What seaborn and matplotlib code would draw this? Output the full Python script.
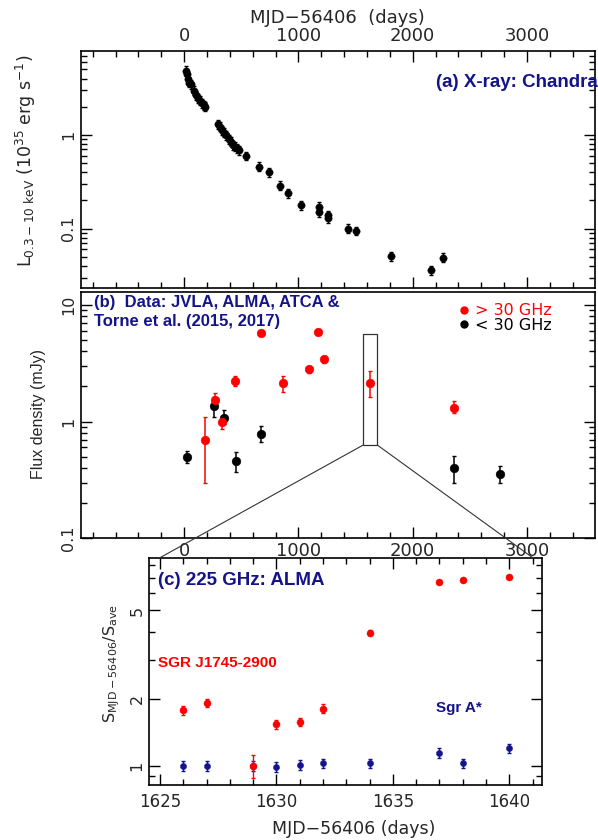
import numpy as np
import pandas as pd
import matplotlib
matplotlib.use("Agg")
import matplotlib.pyplot as plt
import seaborn as sns
from matplotlib.patches import Rectangle, ConnectionPatch
from matplotlib.lines import Line2D
from matplotlib.ticker import FixedLocator, NullFormatter, MultipleLocator

sns.set_theme(style="ticks")
plt.rcParams["font.family"] = ["DejaVu Sans"]
plt.rcParams["mathtext.default"] = "regular"

# ---------------- data ----------------
# (a) X-ray Chandra
xray_day = [13, 23, 33, 47, 57, 90, 107, 123, 140, 157, 173, 183,
            297, 313, 330, 350, 363, 390, 410, 430, 447, 463, 483, 540,
            657, 747, 840, 907, 1023, 1183, 1180, 1257, 1263, 1433, 1507,
            1813, 2157, 2267]
xray_lum = [4.86, 4.48, 3.93, 3.62, 3.5, 2.97, 2.67, 2.46, 2.33, 2.18, 2.09, 2.01,
            1.31, 1.23, 1.13, 1.06, 1.0, 0.90, 0.85, 0.78, 0.75, 0.72, 0.69, 0.60,
            0.46, 0.40, 0.288, 0.238, 0.179, 0.172, 0.151, 0.140, 0.129, 0.100, 0.095,
            0.051, 0.036, 0.049]
xray_err_frac = 0.11

# (b) radio flux densities
hi_day = [180, 267, 333, 447, 677, 867, 1093, 1173, 1223, 1623, 2357]
hi_flux = [0.695, 1.54, 1.0, 2.23, 5.7, 2.14, 2.81, 5.85, 3.42, 2.14, 1.32]
hi_lo = [0.30, 1.32, 0.87, 2.02, 5.55, 1.80, 2.60, 5.70, 3.20, 1.62, 1.18]
hi_hi = [1.10, 1.76, 1.12, 2.45, 5.85, 2.47, 3.02, 6.00, 3.62, 2.70, 1.50]

lo_day = [23, 263, 347, 453, 677, 2363, 2767]
lo_flux = [0.50, 1.36, 1.08, 0.46, 0.79, 0.40, 0.356]
lo_lo = [0.44, 1.10, 0.95, 0.37, 0.67, 0.30, 0.30]
lo_hi = [0.56, 1.62, 1.25, 0.55, 0.92, 0.51, 0.42]

# (c) ALMA 225 GHz normalised
alma_day = [1626, 1627, 1629, 1630, 1631, 1632, 1634, 1637, 1638, 1640]
sgr_ratio = [1.78, 1.92, 1.00, 1.54, 1.58, 1.81, 3.97, 6.71, 6.83, 7.07]
sgr_err = [0.09, 0.08, 0.12, 0.07, 0.07, 0.08, 0.10, 0.06, 0.06, 0.06]
sgra_ratio = [1.00, 1.00, 1.00, 0.993, 1.01, 1.03, 1.03, 1.15, 1.03, 1.20]
sgra_err = [0.05, 0.05, 0.05, 0.05, 0.05, 0.05, 0.05, 0.06, 0.05, 0.06]

# zoom box drawn in panel (b)
ZOOM_BOX_X = (1567, 1690)
ZOOM_BOX_Y = (0.63, 5.6)

RED = "#ff0000"
NAVY = "#14148a"

fig = plt.figure(figsize=(5.98, 8.40), dpi=100)
ax_a = fig.add_axes([0.1349, 0.6568, 0.8601, 0.2829])
ax_b = fig.add_axes([0.1349, 0.3592, 0.8601, 0.2936])
ax_c = fig.add_axes([0.2497, 0.0655, 0.6562, 0.2706])

def style(ax, xfs, yfs, top=True):
    for s in ax.spines.values():
        s.set_linewidth(1.2)
        s.set_color("black")
    ax.tick_params(which="both", direction="in", top=top, right=True,
                   color="black", width=1.0)
    ax.tick_params(axis="x", labelsize=xfs)
    ax.tick_params(axis="y", labelsize=yfs)
    ax.tick_params(which="major", length=8)
    ax.tick_params(which="minor", length=4)
    for lab in ax.get_yticklabels():
        lab.set_rotation(90)
        lab.set_va("center")

# ---------------- (a) ----------------
dfa = pd.DataFrame({"day": xray_day, "lum": xray_lum})
ax_a.set_yscale("log")
ax_a.errorbar(dfa["day"], dfa["lum"], yerr=dfa["lum"] * xray_err_frac, fmt="none",
              ecolor="black", elinewidth=1.0, capsize=1.5, capthick=1.0, zorder=2)
sns.scatterplot(data=dfa, x="day", y="lum", ax=ax_a, color="black", s=28,
                edgecolor="black", linewidth=0.3, zorder=3, legend=False)
ax_a.set_xlim(-905, 3595)
ax_a.set_ylim(0.0231, 7.94)
ax_a.xaxis.set_major_locator(MultipleLocator(1000))
ax_a.xaxis.set_minor_locator(MultipleLocator(200))
ax_a.yaxis.set_major_locator(FixedLocator([0.1, 1]))
ax_a.yaxis.set_minor_locator(FixedLocator([0.03, 0.04, 0.05, 0.06, 0.07, 0.08, 0.09,
                                           0.2, 0.3, 0.4, 0.5, 0.6, 0.7, 0.8, 0.9,
                                           2, 3, 4, 5, 6, 7]))
ax_a.yaxis.set_minor_formatter(NullFormatter())
ax_a.set_yticklabels(["0.1", "1"])
ax_a.xaxis.tick_top()
ax_a.xaxis.set_label_position("top")
style(ax_a, 13, 11.5)
ax_a.tick_params(axis="x", which="both", bottom=True, top=True,
                 labelbottom=False, labeltop=True, pad=4)
ax_a.set_xlabel("MJD\u221256406  (days)", fontsize=13, labelpad=3)
ax_a.set_ylabel("L$_{0.3\u221210\\ keV}$ (10$^{35}$ erg s$^{-1}$)", fontsize=12.5)
ax_a.yaxis.set_label_coords(-0.083, 0.536)
ax_a.text(0.691, 0.868, "(a) X-ray: Chandra", transform=ax_a.transAxes,
          fontsize=13.5, fontweight="bold", color=NAVY, family="Liberation Sans",
          va="center", ha="left", clip_on=False)

# ---------------- (b) ----------------
dfh = pd.DataFrame({"day": hi_day, "flux": hi_flux, "lo": hi_lo, "hi": hi_hi})
dfl = pd.DataFrame({"day": lo_day, "flux": lo_flux, "lo": lo_lo, "hi": lo_hi})
ax_b.set_yscale("log")
for df, col in [(dfl, "black"), (dfh, RED)]:
    ax_b.errorbar(df["day"], df["flux"],
                  yerr=[df["flux"] - df["lo"], df["hi"] - df["flux"]], fmt="none",
                  ecolor=col, elinewidth=1.1, capsize=1.5, capthick=1.0, zorder=2)
    sns.scatterplot(data=df, x="day", y="flux", ax=ax_b, color=col, s=40,
                    edgecolor=col, linewidth=0.3, zorder=3, legend=False)
ax_b.set_xlim(-905, 3595)
ax_b.set_ylim(0.1, 13.0)
ax_b.xaxis.set_major_locator(MultipleLocator(1000))
ax_b.xaxis.set_minor_locator(MultipleLocator(200))
ax_b.yaxis.set_major_locator(FixedLocator([0.1, 1, 10]))
ax_b.yaxis.set_minor_locator(FixedLocator([0.2, 0.3, 0.4, 0.5, 0.6, 0.7, 0.8, 0.9,
                                           2, 3, 4, 5, 6, 7, 8, 9]))
ax_b.yaxis.set_minor_formatter(NullFormatter())
ax_b.set_yticklabels(["0.1", "1", "10"])
style(ax_b, 13, 11.5, top=False)
ax_b.tick_params(axis="x", which="both", pad=3)
ax_b.set_xlabel("")
ax_b.set_ylabel("Flux density (mJy)", fontsize=11.5, family="Liberation Sans")
ax_b.yaxis.set_label_coords(-0.0675, 0.502)
ax_b.text(0.0255, 0.955, "(b)  Data: JVLA, ALMA, ATCA &", transform=ax_b.transAxes,
          fontsize=12, fontweight="bold", color=NAVY, family="Liberation Sans",
          va="center", ha="left")
ax_b.text(0.0255, 0.878, "Torne et al. (2015, 2017)", transform=ax_b.transAxes,
          fontsize=12, fontweight="bold", color=NAVY, family="Liberation Sans",
          va="center", ha="left")
handles = [Line2D([], [], marker="o", ls="none", color=RED, markersize=5),
           Line2D([], [], marker="o", ls="none", color="black", markersize=5)]
leg = ax_b.legend(handles, ["> 30 GHz", "< 30 GHz"], loc="upper left",
                  bbox_to_anchor=(0.72, 0.985), frameon=False, fontsize=11.5,
                  handlelength=0.6, handletextpad=0.4, borderpad=0, labelspacing=-0.05)
leg.get_texts()[0].set_color(RED)
leg.get_texts()[1].set_color("black")
ax_b.add_patch(Rectangle((ZOOM_BOX_X[0], ZOOM_BOX_Y[0]), ZOOM_BOX_X[1] - ZOOM_BOX_X[0],
                         ZOOM_BOX_Y[1] - ZOOM_BOX_Y[0], fill=False, edgecolor="#333333",
                         linewidth=0.9, zorder=1))

# ---------------- (c) ----------------
dfc = pd.DataFrame({"day": alma_day, "sgr": sgr_ratio, "sgr_e": sgr_err,
                    "sgra": sgra_ratio, "sgra_e": sgra_err})
ax_c.set_yscale("log")
ax_c.errorbar(dfc["day"], dfc["sgra"], yerr=dfc["sgra_e"], fmt="none", ecolor=NAVY,
              elinewidth=1.0, capsize=1.5, capthick=1.0, zorder=2)
sns.scatterplot(data=dfc, x="day", y="sgra", ax=ax_c, color=NAVY, s=20,
                edgecolor=NAVY, linewidth=0.3, zorder=3, legend=False)
ax_c.errorbar(dfc["day"], dfc["sgr"], yerr=dfc["sgr_e"], fmt="none", ecolor=RED,
              elinewidth=1.0, capsize=1.5, capthick=1.0, zorder=4)
sns.scatterplot(data=dfc, x="day", y="sgr", ax=ax_c, color=RED, s=26,
                edgecolor=RED, linewidth=0.3, zorder=5, legend=False)
ax_c.set_xlim(1624.54, 1641.39)
ax_c.set_ylim(0.822, 8.63)
ax_c.xaxis.set_major_locator(MultipleLocator(5))
ax_c.xaxis.set_minor_locator(MultipleLocator(1))
ax_c.yaxis.set_major_locator(FixedLocator([1, 2, 5]))
ax_c.yaxis.set_minor_locator(FixedLocator([0.9, 3, 4, 6, 7, 8]))
ax_c.yaxis.set_minor_formatter(NullFormatter())
ax_c.set_yticklabels(["1", "2", "5"])
style(ax_c, 12, 11.5)
ax_c.tick_params(axis="x", which="both", pad=6)
ax_c.set_xlabel("MJD\u221256406 (days)", fontsize=12.5)
ax_c.xaxis.set_label_coords(0.522, -0.154)
ax_c.set_ylabel("S$_{MJD\u221256406}$/S$_{ave}$", fontsize=11.5)
ax_c.yaxis.set_label_coords(-0.070, 0.535)
ax_c.text(0.022, 0.899, "(c) 225 GHz: ALMA", transform=ax_c.transAxes,
          fontsize=13.5, fontweight="bold", color=NAVY, family="Liberation Sans",
          va="center", ha="left")
ax_c.text(0.022, 0.538, "SGR J1745-2900", transform=ax_c.transAxes,
          fontsize=11, fontweight="bold", color=RED, family="Liberation Sans",
          va="center", ha="left")
ax_c.text(0.731, 0.34, "Sgr A*", transform=ax_c.transAxes,
          fontsize=11, fontweight="bold", color=NAVY, family="Liberation Sans",
          va="center", ha="left")

# connecting lines
for xb, xc in [(ZOOM_BOX_X[0], 1625), (ZOOM_BOX_X[1], 1641)]:
    cp = ConnectionPatch(xyA=(xb, ZOOM_BOX_Y[0]), coordsA=ax_b.transData,
                         xyB=(xc, 8.63), coordsB=ax_c.transData,
                         color="#333333", linewidth=0.8, zorder=5)
    fig.add_artist(cp)

fig.savefig("out.png", dpi=100)
